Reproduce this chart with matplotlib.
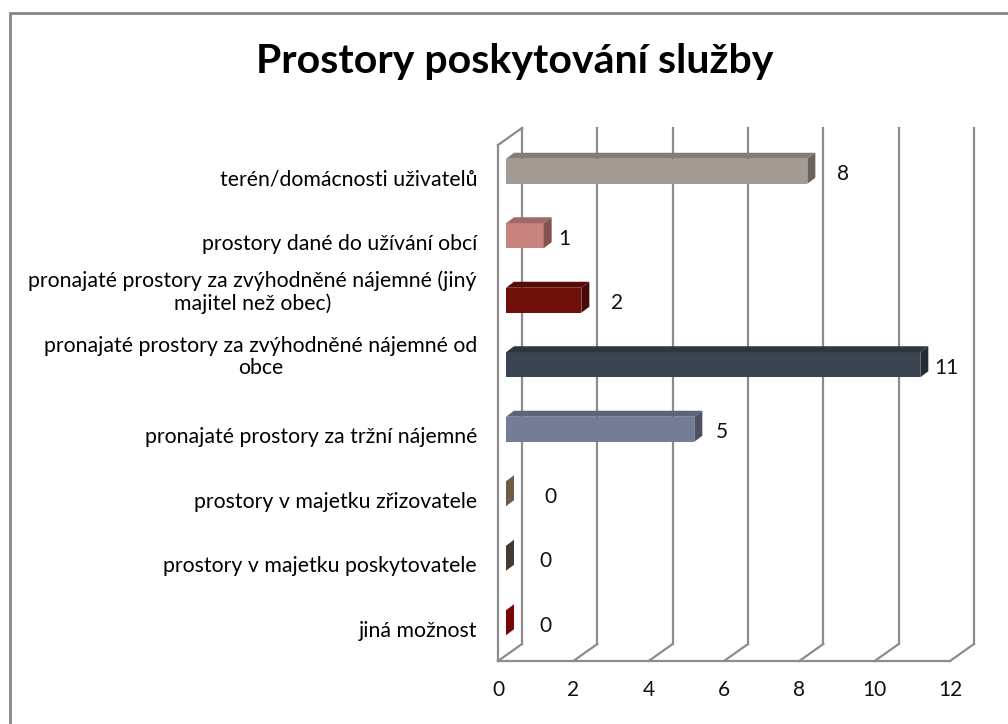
import numpy as np
import matplotlib
matplotlib.use("Agg")
import matplotlib.pyplot as plt
import matplotlib.patches as mpatches
import matplotlib.transforms as mtransforms
from matplotlib.colors import to_rgb

# dane wykresu
categories = [
    "terén/domácnosti uživatelů",
    "prostory dané do užívání obcí",
    "pronajaté prostory za zvýhodněné nájemné (jiný\nmajitel než obec)",
    "pronajaté prostory za zvýhodněné nájemné od\nobce",
    "pronajaté prostory za tržní nájemné",
    "prostory v majetku zřizovatele",
    "prostory v majetku poskytovatele",
    "jiná možnost",
]
values = [8, 1, 2, 11, 5, 0, 0, 0]
x_ticks = [0, 2, 4, 6, 8, 10, 12]
title = "Prostory poskytování služby"

# styl
bar_colors = ["#A39A94", "#C8837F", "#6E0F0A", "#3A4451",
              "#737E96", "#6E5E45", "#453B33", "#7A0404"]
label_dx = [44, 29, 44, 34, 36, 52, 47, 47]  # posun popisku hodnoty (px)
GRID = "#8C8C8C"
FONT = "Lato"

W, H = 1008, 724
fig = plt.figure(figsize=(W / 100, H / 100), dpi=100)

# ramka wykresu
fig.patches.append(mpatches.Rectangle(
    (10 / W, -0.1), 1.2, (H - 13) / H + 0.1, transform=fig.transFigure,
    fill=False, ec="#868686", lw=2))

fig.text(515 / W, 1 - 62 / H, title, ha="center", va="center",
         fontsize=29.5, fontweight="bold", family=FONT)

# przednia płaszczyzna osi
left, right, top, bottom = 498, 950, 145, 661
ax = fig.add_axes([left / W, (H - bottom) / H, (right - left) / W, (bottom - top) / H])
ax.set_xlim(0, 12)
n = len(categories)
ax.set_ylim(-0.5, n - 0.5)
ax.axis("off")

ux = (right - left) / 12.0        # px na jednostkę x
uy = (bottom - top) / float(n)    # px na kategorię
DX, DY = 24 / ux, 17 / uy         # głębokość 3D
FX, FY = 8 / ux, 6 / uy           # przód słupka
BX, BY = 16 / ux, 12 / uy         # tył słupka
bh = 25 / uy

# siatka na tylnej ścianie
for t in x_ticks:
    ax.plot([t + DX, t + DX], [-0.5 + DY, n - 0.5 + DY], color=GRID, lw=1.6,
            clip_on=False, zorder=1)
    ax.plot([t, t + DX], [-0.5, -0.5 + DY], color=GRID, lw=1.6, clip_on=False, zorder=1)
ax.plot([0, 12], [-0.5, -0.5], color=GRID, lw=1.6, clip_on=False, zorder=1)
ax.plot([0, 0], [-0.5, n - 0.5], color=GRID, lw=1.6, clip_on=False, zorder=1)
ax.plot([0, DX], [n - 0.5, n - 0.5 + DY], color=GRID, lw=1.6, clip_on=False, zorder=1)


def shade(c, f):
    r, g, b = to_rgb(c)
    return (r * f, g * f, b * f)


for i, (cat, v, col) in enumerate(zip(categories, values, bar_colors)):
    y = n - 1 - i
    y0, y1 = y - bh / 2, y + bh / 2
    # przód
    ax.add_patch(mpatches.Rectangle((FX, y0 + FY), v, bh, fc=col, ec="none",
                                    clip_on=False, zorder=3))
    # góra
    ax.add_patch(mpatches.Polygon(
        [(FX, y1 + FY), (v + FX, y1 + FY), (v + BX, y1 + BY), (BX, y1 + BY)],
        closed=True, fc=shade(col, 0.8), ec="none", clip_on=False, zorder=3))
    # bok
    side = col if v == 0 else shade(col, 0.65)
    ax.add_patch(mpatches.Polygon(
        [(v + FX, y0 + FY), (v + FX, y1 + FY), (v + BX, y1 + BY), (v + BX, y0 + BY)],
        closed=True, fc=side, ec="none", clip_on=False, zorder=3))

    # popisek hodnoty
    tr = mtransforms.offset_copy(ax.transData, fig=fig, x=label_dx[i] * 0.72, y=3 * 0.72,
                                 units="points")
    ax.text(v, y, str(v), transform=tr, ha="center", va="center",
            fontsize=15, family=FONT, color="#111111")

    # popisek kategorii
    dy = 14 if "\n" in cat else -2
    tr2 = mtransforms.offset_copy(ax.transData, fig=fig, x=-21 * 0.72, y=dy * 0.72,
                                  units="points")
    ax.text(0, y, cat, transform=tr2, ha="right", va="center", multialignment="center",
            fontsize=15.3, family=FONT, color="#000000", linespacing=1.15)

# opisy osi x
trx = mtransforms.offset_copy(ax.transData, fig=fig, x=0, y=-29 * 0.72, units="points")
for t in x_ticks:
    ax.text(t, -0.5, str(t), transform=trx, ha="center", va="center",
            fontsize=15, family=FONT, color="#111111")

fig.savefig("out.png", dpi=100)
plt.close(fig)
